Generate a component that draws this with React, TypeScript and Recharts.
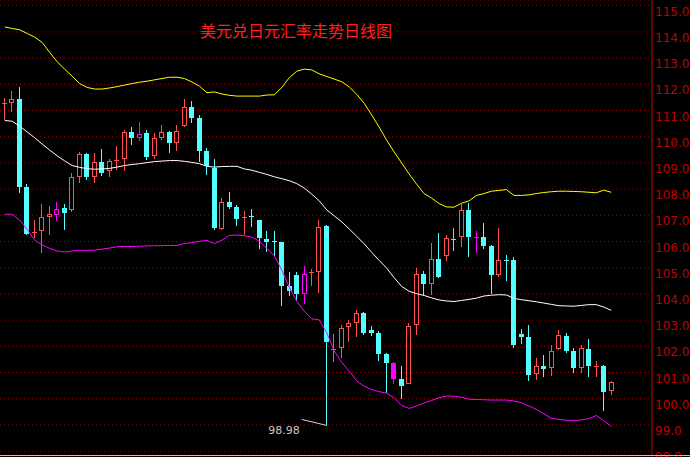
import { ComposedChart, Bar, Line, XAxis, YAxis, CartesianGrid, ReferenceDot } from 'recharts'

// daily candles (USD/JPY)
const open = [
  111.23, 111.30, 111.44, 108.07, 106.34, 106.41, 106.92, 107.02, 107.28, 107.20,
  108.47, 109.34, 108.47, 109.03, 108.68, 109.08, 109.14, 110.18, 109.96, 110.14,
  109.26, 109.96, 110.17, 109.77, 110.42, 111.12, 110.71, 109.45, 108.82, 106.49,
  107.51, 107.30, 106.89, 106.99, 106.82, 106.09, 106.01, 105.97, 104.29, 104.72,
  103.98, 104.79, 104.82, 106.59, 101.87, 101.92, 102.73, 102.90, 103.27, 102.62,
  102.52, 101.71, 101.37, 100.76, 100.57, 102.80, 104.76, 104.37, 105.33, 105.46,
  106.10, 106.16, 107.20, 106.16, 106.17, 105.83, 104.72, 105.30, 105.29, 102.47,
  102.36, 100.93, 101.25, 101.16, 101.90, 102.39, 101.82, 101.18, 101.89, 101.22,
  101.25, 100.28,
]
const high = [
  111.47, 111.74, 111.91, 108.18, 106.82, 107.42, 107.35, 107.50, 107.43, 108.60,
  109.40, 109.36, 109.37, 109.53, 109.16, 109.64, 110.26, 110.36, 110.56, 110.24,
  110.13, 110.46, 110.21, 110.45, 111.44, 111.36, 110.83, 109.56, 109.15, 107.67,
  107.89, 107.39, 107.16, 107.24, 106.84, 106.40, 106.40, 105.99, 104.82, 104.82,
  105.05, 104.95, 106.82, 106.64, 102.47, 102.81, 102.99, 103.37, 103.32, 102.77,
  102.58, 101.73, 101.41, 101.25, 102.89, 104.99, 104.87, 105.95, 106.32, 106.24,
  106.51, 107.42, 107.46, 106.40, 106.70, 105.87, 106.51, 105.48, 105.41, 102.66,
  102.81, 101.55, 101.67, 102.05, 102.62, 102.50, 101.92, 102.05, 102.28, 101.44,
  101.29, 100.69,
]
const low = [
  110.64, 110.95, 107.86, 106.24, 106.15, 105.55, 106.25, 106.79, 106.44, 107.13,
  108.24, 108.35, 108.24, 108.51, 108.47, 108.73, 108.70, 109.68, 109.85, 109.12,
  109.16, 109.87, 109.39, 109.47, 110.36, 110.51, 109.05, 108.53, 106.44, 106.44,
  107.23, 106.61, 106.25, 106.56, 105.71, 105.61, 105.45, 103.55, 103.92, 103.77,
  103.60, 104.31, 104.05, 98.98, 101.41, 101.56, 102.18, 102.37, 102.43, 102.39,
  101.44, 100.21, 100.56, 100.00, 100.55, 102.43, 103.96, 103.96, 104.62, 105.27,
  105.64, 105.80, 105.42, 105.57, 105.71, 104.00, 104.66, 104.49, 101.95, 102.09,
  100.69, 100.71, 100.84, 100.88, 101.86, 101.76, 100.97, 100.99, 100.84, 100.84,
  99.54, 100.14,
]
const close = [
  111.27, 111.43, 108.09, 106.29, 106.38, 106.93, 107.04, 107.23, 107.10, 108.45,
  109.34, 108.47, 109.02, 108.63, 109.06, 109.12, 110.17, 109.96, 110.09, 109.24,
  109.94, 110.17, 109.77, 110.21, 111.12, 110.73, 109.47, 108.88, 106.53, 107.51,
  107.33, 106.87, 106.93, 106.95, 106.15, 105.99, 105.97, 104.31, 104.11, 103.98,
  104.75, 104.83, 106.54, 102.18, 101.91, 102.69, 102.88, 103.26, 102.52, 102.52,
  101.71, 101.37, 100.76, 100.50, 102.78, 104.75, 104.38, 105.32, 104.66, 106.12,
  106.10, 107.20, 106.18, 106.16, 105.84, 104.72, 105.29, 105.26, 102.05, 102.37,
  100.90, 101.24, 101.13, 101.82, 102.43, 101.82, 101.18, 101.92, 101.26, 101.26,
  100.27, 100.64,
]

// bollinger bands
const upper = [
  114.19, 114.13, 114.08, 113.94, 113.80, 113.60, 113.22, 112.86, 112.58, 112.31,
  112.03, 111.88, 111.82, 111.82, 111.86, 111.91, 111.97, 112.03, 112.08, 112.12,
  112.17, 112.22, 112.27, 112.27, 112.22, 112.09, 111.93, 111.68, 111.71, 111.63,
  111.58, 111.55, 111.55, 111.55, 111.55, 111.59, 111.60, 111.88, 112.25, 112.50,
  112.58, 112.55, 112.40, 112.30, 112.20, 112.10, 111.90, 111.62, 111.28, 110.83,
  110.37, 109.87, 109.42, 109.00, 108.58, 108.19, 107.83, 107.66, 107.45, 107.32,
  107.31, 107.46, 107.55, 107.76, 107.83, 107.92, 107.95, 107.98, 107.76, 107.76,
  107.78, 107.83, 107.87, 107.90, 107.92, 107.92, 107.91, 107.90, 107.88, 107.86,
  107.96, 107.88,
]
const middle = [
  110.62, 110.59, 110.40, 110.18, 109.96, 109.72, 109.49, 109.27, 109.08, 108.90,
  108.83, 108.78, 108.76, 108.77, 108.79, 108.84, 108.90, 108.94, 108.97, 109.01,
  109.05, 109.07, 109.09, 109.09, 109.06, 109.02, 108.97, 108.87, 108.84, 108.86,
  108.87, 108.87, 108.77, 108.72, 108.64, 108.56, 108.47, 108.40, 108.32, 108.21,
  108.04, 107.81, 107.55, 107.21, 106.98, 106.75, 106.48, 106.20, 105.91, 105.59,
  105.28, 104.99, 104.62, 104.29, 104.10, 104.01, 103.94, 103.85, 103.77, 103.73,
  103.71, 103.75, 103.79, 103.84, 103.92, 103.95, 103.97, 103.96, 103.83, 103.78,
  103.74, 103.70, 103.65, 103.60, 103.55, 103.54, 103.53, 103.56, 103.59, 103.59,
  103.50, 103.37,
]
const lower = [
  107.04, 107.04, 106.82, 106.46, 106.05, 105.87, 105.74, 105.64, 105.60, 105.64,
  105.67, 105.66, 105.67, 105.71, 105.75, 105.80, 105.81, 105.81, 105.82, 105.83,
  105.84, 105.84, 105.85, 105.85, 105.92, 105.96, 106.01, 106.04, 105.92, 106.05,
  106.23, 106.25, 106.22, 106.17, 106.01, 105.74, 105.45, 104.91, 104.25, 103.72,
  103.34, 103.05, 103.01, 102.52, 101.82, 101.39, 101.05, 100.68, 100.48, 100.35,
  100.27, 100.21, 100.04, 99.74, 99.63, 99.72, 99.84, 99.93, 100.04, 100.10,
  100.10, 100.05, 99.98, 99.97, 99.96, 99.95, 99.95, 99.95, 99.91, 99.85,
  99.72, 99.59, 99.42, 99.25, 99.21, 99.18, 99.17, 99.19, 99.24, 99.36,
  99.16, 98.95,
]

// candles the terminal paints magenta
const marked = [7, 18, 40, 52, 63]

const yTicks = [98, 99, 100, 101, 102, 103, 104, 105, 106, 107, 108, 109, 110, 111, 112, 113, 114, 115]
const title = '美元兑日元汇率走势日线图'

const UP = '#ff5050'
const DOWN = '#54ffff'
const MARK = '#ff00ff'
const FLAT = '#c0c0c0'

const data = open.map((o, i) => ({
  idx: i,
  open: o,
  high: high[i],
  low: low[i],
  close: close[i],
  range: [low[i], high[i]],
  upper: upper[i],
  middle: middle[i],
  lower: lower[i],
  marked: marked.includes(i),
}))

const lowest = Math.min(...low)
const lowestIdx = low.indexOf(lowest)

function Candle(props: any) {
  const { x, y, width, height, payload } = props
  if (x == null || y == null) return null
  const top = Math.min(y, y + height)
  const bottom = Math.max(y, y + height)
  const span = payload.high - payload.low
  const k = span > 0 ? (bottom - top) / span : 0
  const toY = (v: number) => top + (payload.high - v) * k
  const cx = Math.floor(x + width / 2) + 0.5
  const up = payload.close > payload.open
  const down = payload.close < payload.open
  const color = payload.marked ? MARK : up ? UP : down ? DOWN : FLAT
  const hi = Math.round(toY(payload.high))
  const lo = Math.round(toY(payload.low))
  const bTop = Math.round(toY(Math.max(payload.open, payload.close)))
  const bBot = Math.round(toY(Math.min(payload.open, payload.close)))

  if (bBot - bTop < 2) {
    return (
      <g shapeRendering="crispEdges">
        <line x1={cx} x2={cx} y1={hi} y2={lo} stroke={color} strokeWidth={1} />
        <rect x={cx - 2.5} y={bTop} width={5} height={1} fill={color} />
      </g>
    )
  }
  if (up) {
    return (
      <g shapeRendering="crispEdges">
        <line x1={cx} x2={cx} y1={hi} y2={bTop} stroke={color} strokeWidth={1} />
        <line x1={cx} x2={cx} y1={bBot} y2={lo} stroke={color} strokeWidth={1} />
        <rect x={cx - 2} y={bTop + 0.5} width={4} height={bBot - bTop - 1} fill="#000" stroke={color} strokeWidth={1} />
      </g>
    )
  }
  return (
    <g shapeRendering="crispEdges">
      <line x1={cx} x2={cx} y1={hi} y2={lo} stroke={color} strokeWidth={1} />
      <rect x={cx - 2.5} y={bTop} width={5} height={bBot - bTop} fill={color} />
    </g>
  )
}

function AxisTick(props: any) {
  const { x, y, payload } = props
  return (
    <text x={x + 3} y={y + 10} fill="#c00000" fontSize={12} fontFamily="DejaVu Sans" textAnchor="start">
      {Number(payload.value).toFixed(1)}
    </text>
  )
}

function LowMark(props: any) {
  const { cx, cy } = props
  if (cx == null || cy == null) return null
  return (
    <g>
      <line x1={cx} y1={cy} x2={cx - 25} y2={cy - 6} stroke="#d0d0d0" strokeWidth={1} />
      <text x={cx - 27} y={cy + 9} fill="#c8c8c8" fontSize={11} fontFamily="DejaVu Sans" textAnchor="end">
        {lowest.toFixed(2)}
      </text>
    </g>
  )
}

export default function App() {
  return (
    <div style={{ position: 'fixed', left: 0, top: 0, width: 690, height: 457, background: '#000', overflow: 'hidden' }}>
      <ComposedChart width={690} height={457} data={data} margin={{ top: 0, right: 0, bottom: 0, left: 0 }}>
        <CartesianGrid vertical={false} stroke="#9a0000" strokeDasharray="1 3" />
        <XAxis dataKey="idx" hide padding={{ left: 1, right: 37 }} />
        <YAxis
          orientation="right"
          width={38}
          domain={[97.775, 115.218]}
          allowDataOverflow
          ticks={yTicks}
          interval={0}
          tickLine={false}
          tickSize={0}
          tickMargin={0}
          axisLine={{ stroke: '#c00000' }}
          tick={<AxisTick />}
        />
        <Line type="linear" dataKey="upper" stroke="#ffff00" strokeWidth={1} dot={false} activeDot={false} isAnimationActive={false} />
        <Line type="linear" dataKey="middle" stroke="#ffffff" strokeWidth={1} dot={false} activeDot={false} isAnimationActive={false} />
        <Line type="linear" dataKey="lower" stroke="#ff00ff" strokeWidth={1} dot={false} activeDot={false} isAnimationActive={false} />
        <Bar dataKey="range" barSize={5} shape={<Candle />} activeBar={false} isAnimationActive={false} />
        <ReferenceDot x={lowestIdx} y={lowest} r={0} shape={(p: any) => <LowMark {...p} />} />
      </ComposedChart>
      <div style={{ position: 'absolute', left: 0, top: 455, width: 690, height: 1, background: '#c0c0c0' }} />
      <div
        style={{
          position: 'absolute',
          left: 196,
          top: 22,
          width: 200,
          textAlign: 'center',
          color: '#ff1f1f',
          fontSize: 16,
          lineHeight: '16px',
          fontFamily: '"Noto Sans CJK SC"',
          whiteSpace: 'nowrap',
        }}
      >
        {title}
      </div>
    </div>
  )
}
